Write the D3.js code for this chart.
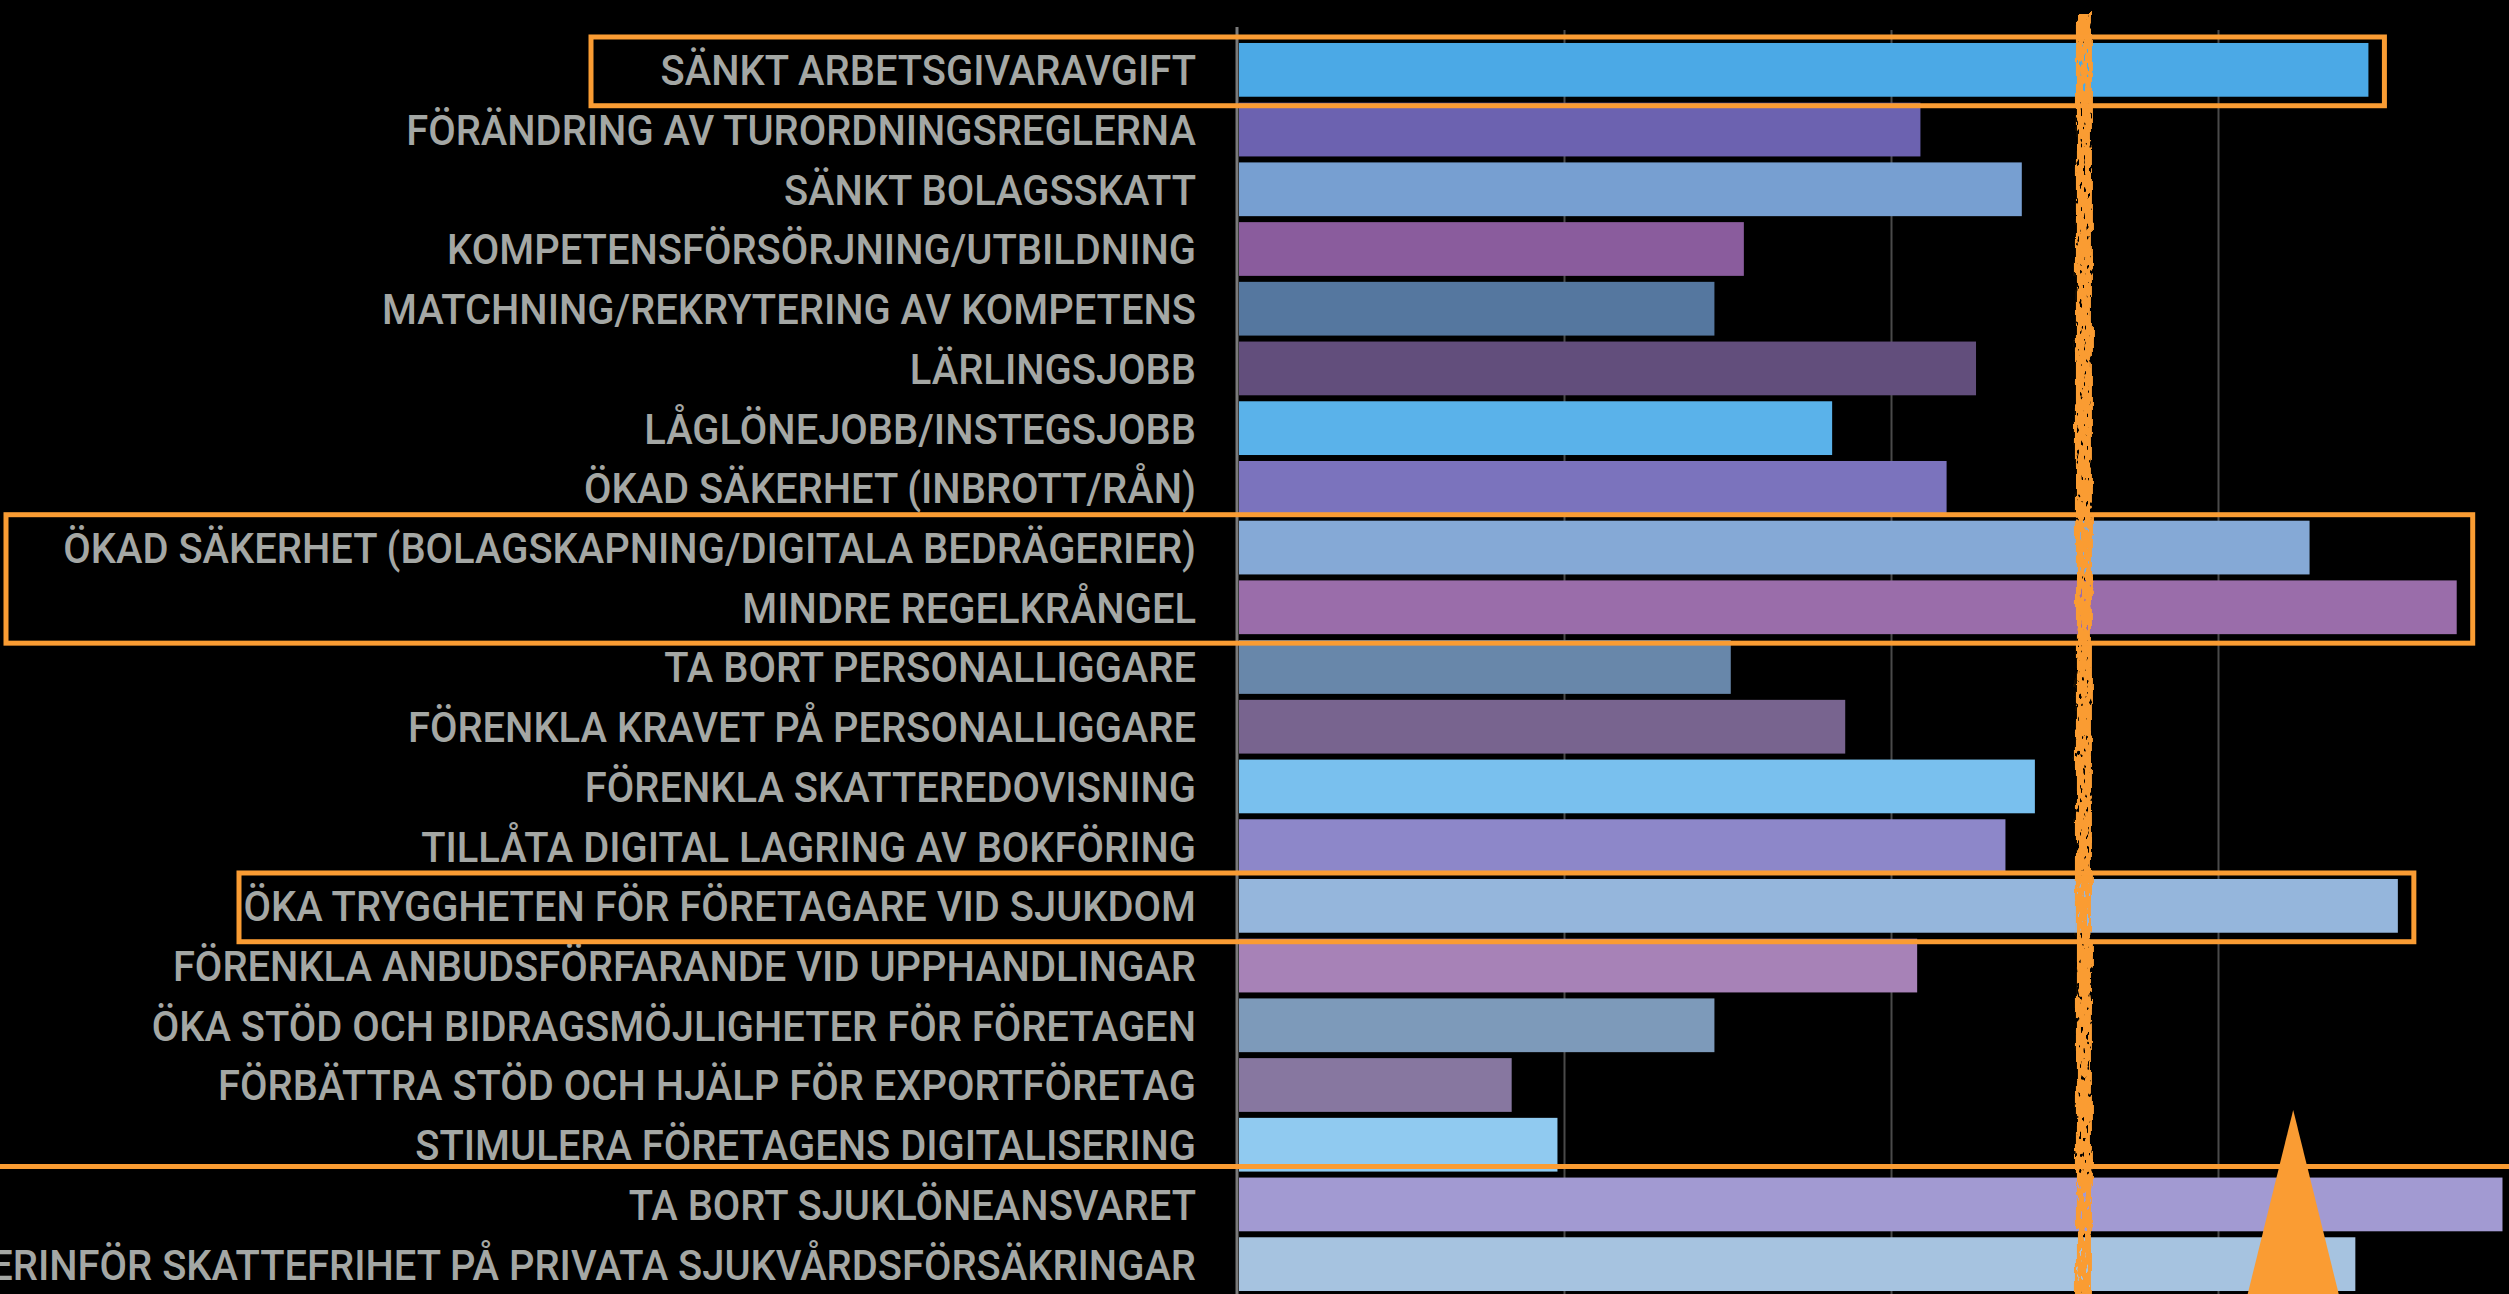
<!DOCTYPE html>
<html>
<head>
<meta charset="utf-8">
<script src="https://cdn.jsdelivr.net/npm/d3@7"></script>
<style>
  html, body { margin: 0; padding: 0; background: #000; }
  #plot { width: 2509px; height: 1294px; overflow: hidden; }
</style>
</head>
<body>
<div id="plot"></div>
<script>
// categories, top to bottom
const categories = [
  'SÄNKT ARBETSGIVARAVGIFT',
  'FÖRÄNDRING AV TURORDNINGSREGLERNA',
  'SÄNKT BOLAGSSKATT',
  'KOMPETENSFÖRSÖRJNING/UTBILDNING',
  'MATCHNING/REKRYTERING AV KOMPETENS',
  'LÄRLINGSJOBB',
  'LÅGLÖNEJOBB/INSTEGSJOBB',
  'ÖKAD SÄKERHET (INBROTT/RÅN)',
  'ÖKAD SÄKERHET (BOLAGSKAPNING/DIGITALA BEDRÄGERIER)',
  'MINDRE REGELKRÅNGEL',
  'TA BORT PERSONALLIGGARE',
  'FÖRENKLA KRAVET PÅ PERSONALLIGGARE',
  'FÖRENKLA SKATTEREDOVISNING',
  'TILLÅTA DIGITAL LAGRING AV BOKFÖRING',
  'ÖKA TRYGGHETEN FÖR FÖRETAGARE VID SJUKDOM',
  'FÖRENKLA ANBUDSFÖRFARANDE VID UPPHANDLINGAR',
  'ÖKA STÖD OCH BIDRAGSMÖJLIGHETER FÖR FÖRETAGEN',
  'FÖRBÄTTRA STÖD OCH HJÄLP FÖR EXPORTFÖRETAG',
  'STIMULERA FÖRETAGENS DIGITALISERING',
  'TA BORT SJUKLÖNEANSVARET',
  'ÅTERINFÖR SKATTEFRIHET PÅ PRIVATA SJUKVÅRDSFÖRSÄKRINGAR'
];

// values (grid step = 10)
const values = [34.6, 20.9, 24.0, 15.5, 14.6, 22.6, 18.2, 21.7, 32.8, 37.3, 15.1,
  18.6, 24.4, 23.5, 35.5, 20.8, 14.6, 8.4, 9.8, 38.7, 34.2];

const barColors = [
  '#4ba9e6', '#6c62b0', '#779fd1', '#8a5c9d', '#55779f', '#624e7c',
  '#5ab2ea', '#7b73bd', '#85a9d6', '#9a6daa', '#6887aa', '#78648f',
  '#79c0ee', '#8d87c9', '#95b6dc', '#a782b7', '#7d9aba', '#8777a0',
  '#90caf0', '#a29ad2', '#a6c3e0'
];

const gridTicks = [10, 20, 30, 40];
const refValue = 25.9;          // orange vertical marker
const pointerValue = 32.3;      // orange triangle
// highlighted row groups: first row, last row, left edge of the frame
const boxFirst = [0, 8, 14];
const boxLast = [0, 9, 14];
const boxLeft = [591, 6, 239];
const separatorAfter = 18;      // line between this row and the next

const W = 2509, H = 1294;
const orange = '#fa9c33';

const svg = d3.select('#plot').append('svg')
  .attr('width', W).attr('height', H)
  .style('background', '#000');

// brush-like texture for the marker
const defs = svg.append('defs');
const f = defs.append('filter').attr('id', 'rough')
  .attr('filterUnits', 'userSpaceOnUse')
  .attr('x', 1900).attr('y', 0).attr('width', 400).attr('height', H);
f.append('feTurbulence').attr('type', 'fractalNoise').attr('baseFrequency', '0.1 0.04')
  .attr('numOctaves', 3).attr('seed', 4).attr('result', 'n');
f.append('feDisplacementMap').attr('in', 'SourceGraphic').attr('in2', 'n').attr('scale', 8)
  .attr('xChannelSelector', 'R').attr('yChannelSelector', 'G').attr('result', 'd');
f.append('feTurbulence').attr('type', 'fractalNoise').attr('baseFrequency', '0.3 0.12')
  .attr('numOctaves', 2).attr('seed', 9).attr('result', 'n2');
f.append('feColorMatrix').attr('in', 'n2').attr('type', 'matrix')
  .attr('values', '0 0 0 0 0  0 0 0 0 0  0 0 0 0 0  16 0 0 0 -4.4').attr('result', 'holes');
f.append('feComposite').attr('in', 'd').attr('in2', 'holes').attr('operator', 'in');

const x = d3.scaleLinear().domain([0, 40]).range([1237, 2545]);
const y = d3.scaleBand().domain(categories).range([40, 1294]).paddingInner(0.1).paddingOuter(0.05);
const bw = y.bandwidth();

// vertical grid
const grid = svg.append('g').attr('transform', `translate(0,${H})`)
  .call(d3.axisBottom(x).tickValues(gridTicks).tickSize(-(H - 30)).tickFormat(''));
grid.select('.domain').remove();
grid.selectAll('line').attr('stroke', '#4a4a4a').attr('stroke-width', 2);

// value axis line
svg.append('line')
  .attr('x1', x(0)).attr('x2', x(0)).attr('y1', 27).attr('y2', H)
  .attr('stroke', '#7a7a7a').attr('stroke-width', 3);

// bars
svg.selectAll('rect.bar')
  .data(categories)
  .enter()
  .append('rect')
  .attr('class', 'bar')
  .attr('x', x(0) + 2)
  .attr('y', (d) => y(d))
  .attr('width', (d, i) => x(values[i]) - x(0) - 2)
  .attr('height', bw)
  .attr('fill', (d, i) => barColors[i]);

// labels
const labels = svg.append('g').attr('class', 'labels');
const labelX = x(0) - 41;
const lbl = labels.selectAll('text')
  .data(categories)
  .enter()
  .append('text')
  .attr('text-anchor', 'end')
  .attr('dy', '0.36em')
  .style('font-family', 'Roboto, "Noto Sans", sans-serif')
  .style('font-size', '43px')
  .style('font-weight', 500)
  .style('fill', '#a4a7a4')
  .text((d) => d);
// condensed look: squeeze so the long "ÖKAD SÄKERHET (BOLAGSKAPNING...)" label spans its width in the picture
const refLen = lbl.nodes()[8].getComputedTextLength();
const sx = 1133 / refLen;
lbl.attr('transform', (d) => `translate(${labelX},${y(d) + bw / 2}) scale(${sx},1)`);

// rough orange marker line
svg.append('rect')
  .attr('x', x(refValue) - 8).attr('width', 16)
  .attr('y', 14).attr('height', H)
  .attr('fill', orange)
  .attr('filter', 'url(#rough)');

// highlight frames
boxFirst.forEach((r, k) => {
  const top = y(categories[r]) - 6;
  const bottom = y(categories[boxLast[k]]) + bw + 9;
  const maxV = d3.max(values.slice(r, boxLast[k] + 1));
  svg.append('rect')
    .attr('x', boxLeft[k])
    .attr('y', top)
    .attr('width', x(maxV) + 16 - boxLeft[k])
    .attr('height', bottom - top)
    .attr('fill', 'none')
    .attr('stroke', orange)
    .attr('stroke-width', 5);
});

// separator line
const sepY = y(categories[separatorAfter + 1]) - 11;
svg.append('line')
  .attr('x1', 0).attr('x2', W).attr('y1', sepY).attr('y2', sepY)
  .attr('stroke', orange).attr('stroke-width', 5);

// pointer triangle
const px = x(pointerValue);
svg.append('path')
  .attr('d', `M${px},1110 L${px + 46},${H + 2} L${px - 46},${H + 2} Z`)
  .attr('fill', orange);
</script>
</body>
</html>
